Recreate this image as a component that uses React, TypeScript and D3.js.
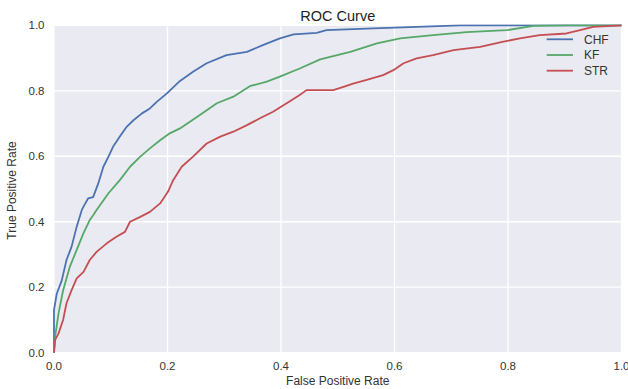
import React from "react";
import * as d3 from "d3";

const chfFpr = [0, 0, 0.0048, 0.0136, 0.022, 0.031, 0.040, 0.049, 0.052, 0.060, 0.069, 0.078, 0.087, 0.096, 0.104, 0.116, 0.128, 0.140, 0.155, 0.169, 0.181, 0.199, 0.222, 0.245, 0.269, 0.304, 0.340, 0.369, 0.398, 0.422, 0.463, 0.480, 0.551, 0.639, 0.715, 1.0];
const chfTpr = [0, 0.13, 0.18, 0.22, 0.283, 0.324, 0.385, 0.436, 0.446, 0.471, 0.475, 0.517, 0.568, 0.599, 0.629, 0.66, 0.69, 0.71, 0.731, 0.746, 0.766, 0.792, 0.830, 0.858, 0.884, 0.909, 0.919, 0.940, 0.960, 0.972, 0.977, 0.985, 0.990, 0.995, 1.0, 1.0];

const kfFpr = [0, 0.002, 0.008, 0.016, 0.028, 0.040, 0.052, 0.063, 0.069, 0.075, 0.096, 0.116, 0.134, 0.152, 0.169, 0.187, 0.204, 0.222, 0.257, 0.287, 0.316, 0.345, 0.375, 0.398, 0.433, 0.469, 0.522, 0.569, 0.610, 0.668, 0.727, 0.798, 0.845, 0.903, 1.0];
const kfTpr = [0, 0.05, 0.12, 0.19, 0.263, 0.314, 0.365, 0.405, 0.42, 0.436, 0.487, 0.527, 0.568, 0.599, 0.624, 0.649, 0.670, 0.685, 0.726, 0.762, 0.782, 0.814, 0.828, 0.843, 0.868, 0.896, 0.919, 0.945, 0.960, 0.970, 0.979, 0.985, 0.998, 1.0, 1.0];

const strFpr = [0, 0.002, 0.008, 0.016, 0.022, 0.031, 0.040, 0.052, 0.063, 0.075, 0.093, 0.110, 0.125, 0.134, 0.152, 0.169, 0.187, 0.201, 0.210, 0.225, 0.245, 0.269, 0.293, 0.316, 0.340, 0.363, 0.386, 0.410, 0.433, 0.445, 0.492, 0.510, 0.527, 0.551, 0.580, 0.598, 0.616, 0.639, 0.668, 0.704, 0.751, 0.792, 0.821, 0.856, 0.903, 0.927, 0.950, 1.0];
const strTpr = [0, 0.039, 0.059, 0.10, 0.151, 0.191, 0.227, 0.247, 0.283, 0.308, 0.334, 0.354, 0.369, 0.40, 0.415, 0.43, 0.456, 0.492, 0.527, 0.568, 0.599, 0.639, 0.66, 0.675, 0.695, 0.716, 0.736, 0.762, 0.787, 0.802, 0.802, 0.812, 0.822, 0.833, 0.848, 0.863, 0.884, 0.899, 0.909, 0.924, 0.934, 0.950, 0.960, 0.970, 0.975, 0.985, 0.995, 1.0];

const seriesNames = ["CHF", "KF", "STR"];
const seriesColors = ["#4C72B0", "#55A868", "#C44E52"];
const tickValues = [0, 0.2, 0.4, 0.6, 0.8, 1.0];

const W = 628, H = 389;
const M = { left: 54, right: 6.5, top: 25.3, bottom: 36.3 };

export default function App() {
  const x = d3.scaleLinear().domain([0, 1]).range([M.left, W - M.right]);
  const y = d3.scaleLinear().domain([0, 1]).range([H - M.bottom, M.top]);
  const series = [
    chfFpr.map((f, i) => [f, chfTpr[i]] as [number, number]),
    kfFpr.map((f, i) => [f, kfTpr[i]] as [number, number]),
    strFpr.map((f, i) => [f, strTpr[i]] as [number, number]),
  ];
  const line = d3.line<[number, number]>().x(d => x(d[0])).y(d => y(d[1]));
  const font = "'Liberation Sans', Arial, sans-serif";
  const txt = "#333";
  return (
    <svg width={W} height={H} style={{ position: "absolute", left: 0, top: 0 }} fontFamily={font}>
      <rect x={0} y={0} width={W} height={H} fill="#fff" />
      <rect x={x(0)} y={y(1)} width={x(1) - x(0)} height={y(0) - y(1)} fill="#EAEAF2" />
      {tickValues.map(t => (
        <g key={"g" + t}>
          <line x1={x(t)} x2={x(t)} y1={y(0)} y2={y(1)} stroke="#fff" strokeWidth={1.3} />
          <line x1={x(0)} x2={x(1)} y1={y(t)} y2={y(t)} stroke="#fff" strokeWidth={1.3} />
        </g>
      ))}
      <defs>
        <clipPath id="clip">
          <rect x={x(0) - 1} y={y(1) - 1} width={x(1) - x(0) + 2} height={y(0) - y(1) + 2} />
        </clipPath>
      </defs>
      <g clipPath="url(#clip)">
        {series.map((s, i) => (
          <path key={seriesNames[i]} d={line(s) || ""} fill="none" stroke={seriesColors[i]} strokeWidth={1.8} strokeLinejoin="round" />
        ))}
      </g>
      {tickValues.map(t => (
        <text key={"xt" + t} x={x(t)} y={369.5} textAnchor="middle" fontSize={11.5} fill={txt}>{t.toFixed(1)}</text>
      ))}
      {tickValues.map(t => (
        <text key={"yt" + t} x={44.5} y={y(t)} dy="0.35em" textAnchor="end" fontSize={11.5} fill={txt}>{t.toFixed(1)}</text>
      ))}
      <text x={(x(0) + x(1)) / 2} y={21} textAnchor="middle" fontSize={14.5} fill="#222">ROC Curve</text>
      <text x={(x(0) + x(1)) / 2} y={384.5} textAnchor="middle" fontSize={12} fill={txt}>False Positive Rate</text>
      <text transform={`translate(16, ${(y(0) + y(1)) / 2 + 1.5}) rotate(-90)`} textAnchor="middle" fontSize={12} fill={txt}>True Positive Rate</text>
      {seriesNames.map((n, i) => (
        <g key={"lg" + n} transform={`translate(0, ${39.3 + i * 15.7})`}>
          <line x1={546.7} x2={573} y1={0} y2={0} stroke={seriesColors[i]} strokeWidth={1.8} />
          <text x={584} y={0} dy="0.35em" fontSize={12} fill={txt}>{n}</text>
        </g>
      ))}
    </svg>
  );
}
